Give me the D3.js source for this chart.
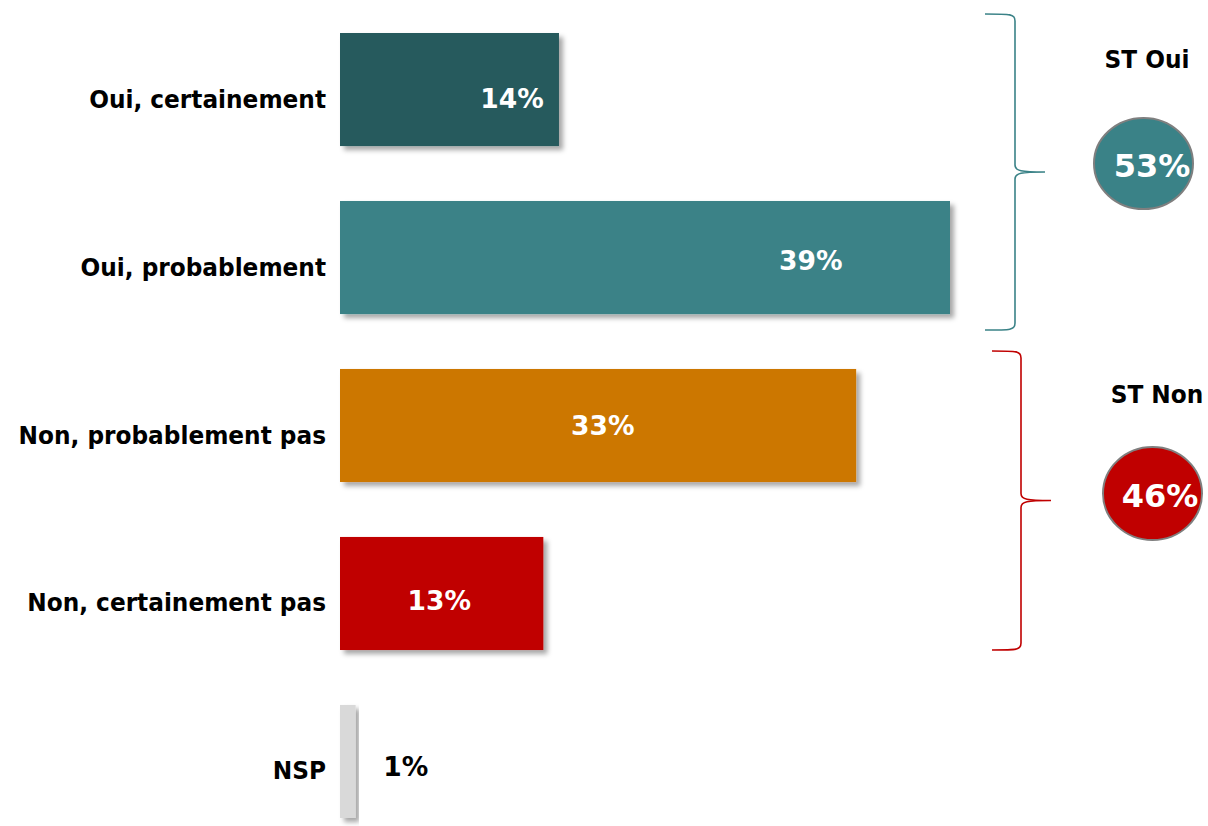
<!DOCTYPE html>
<html>
<head>
<meta charset="utf-8">
<script src="https://cdn.jsdelivr.net/npm/d3@7"></script>
<style>
  html, body { margin: 0; padding: 0; background: #ffffff; }
  svg { display: block; font-family: "DejaVu Sans", Verdana, sans-serif; }
</style>
</head>
<body>
<svg id="chart" width="1208" height="826"></svg>
<script>
// ---- data ----
const categories = ["Oui, certainement", "Oui, probablement", "Non, probablement pas", "Non, certainement pas", "NSP"];
const values = [14, 39, 33, 13, 1];
const barColors = ["#275a5d", "#3a8287", "#cc7703", "#c00000", "#d9d9d9"];
const labelColors = ["#ffffff", "#ffffff", "#ffffff", "#ffffff", "#000000"];
// where each percent label sits horizontally, in value units
const labelAnchors = [11.0, 30.1, 16.8, 6.35, 4.2];

const groupNames = ["ST Oui", "ST Non"];
const groupValues = [53, 46];
const groupColors = ["#3a8287", "#c00000"];

// ---- layout (not data) ----
const labelBaseline = [18, 12.5, 9.5, 17, 14.5]; // px below bar centre
const squeeze = 0.93;

// ---- chart ----
const svg = d3.select("#chart");

const x = d3.scaleLinear().domain([0, 39]).range([340, 950]);
const y = d3.scaleBand().domain(categories).range([33, 818]).paddingInner(0.327).paddingOuter(0);
const yc = c => y(c) + y.bandwidth() / 2;

const defs = svg.append("defs");
const f = defs.append("filter").attr("id", "shadow").attr("x", "-10%").attr("y", "-10%").attr("width", "130%").attr("height", "130%");
f.append("feDropShadow").attr("dx", 4).attr("dy", 4).attr("stdDeviation", 2.5)
  .attr("flood-color", "#000").attr("flood-opacity", 0.35);

const rows = categories.map((c, i) => ({ c, v: values[i], col: barColors[i], lc: labelColors[i], la: labelAnchors[i], lb: labelBaseline[i] }));

svg.append("g").selectAll("rect").data(rows).join("rect")
  .attr("x", x(0))
  .attr("y", d => y(d.c))
  .attr("width", d => x(d.v) - x(0))
  .attr("height", y.bandwidth())
  .attr("fill", d => d.col)
  .attr("filter", "url(#shadow)");

// category labels
svg.append("g").selectAll("text").data(rows).join("text")
  .attr("transform", d => `translate(${x(0) - 14},${yc(d.c) + 18}) scale(${squeeze},1)`)
  .attr("text-anchor", "end")
  .attr("font-size", 25)
  .attr("font-weight", "bold")
  .attr("fill", "#000")
  .text(d => d.c);

// value labels
svg.append("g").selectAll("text").data(rows).join("text")
  .attr("x", d => x(d.la))
  .attr("y", d => yc(d.c) + d.lb)
  .attr("text-anchor", "middle")
  .attr("font-size", 26.5)
  .attr("font-weight", "bold")
  .attr("fill", d => d.lc)
  .text(d => d.v + "%");

// braces
function bracePath(xs, xv, xt, top, bot) {
  const mid = (top + bot) / 2, r = 7;
  return `M${xs},${top} C${xv - 4},${top} ${xv},${top} ${xv},${top + r}` +
    ` L${xv},${mid - r} C${xv},${mid - 1} ${xv + 6},${mid} ${xt},${mid}` +
    ` C${xv + 6},${mid} ${xv},${mid + 1} ${xv},${mid + r}` +
    ` L${xv},${bot - r} C${xv},${bot} ${xv - 4},${bot} ${xs},${bot}`;
}
const braceSpecs = [
  { top: y(categories[0]) - 19, bot: y(categories[1]) + y.bandwidth() + 16, xs: 985, xv: 1015, xt: 1045 },
  { top: y(categories[2]) - 18, bot: y(categories[3]) + y.bandwidth(), xs: 992, xv: 1021, xt: 1051 }
];
braceSpecs.forEach((b, i) => {
  svg.append("path").attr("d", bracePath(b.xs, b.xv, b.xt, b.top, b.bot))
    .attr("fill", "none").attr("stroke", groupColors[i]).attr("stroke-width", 1.6);
});

// group titles and bubbles
const bubbleSpecs = [
  { tx: 1147, ty: 68, cx: 1143.5, cy: 163.5, rx: 49.5, ry: 45.5, vx: 1152, vy: 177 },
  { tx: 1157, ty: 403, cx: 1152.5, cy: 493.5, rx: 49.5, ry: 46.5, vx: 1160, vy: 507 }
];
groupNames.forEach((g, i) => {
  const s = bubbleSpecs[i];
  svg.append("text").attr("transform", `translate(${s.tx},${s.ty}) scale(${squeeze},1)`)
    .attr("text-anchor", "middle")
    .attr("font-size", 25).attr("font-weight", "bold").attr("fill", "#000").text(g);
  svg.append("ellipse").attr("cx", s.cx).attr("cy", s.cy).attr("rx", s.rx).attr("ry", s.ry)
    .attr("fill", groupColors[i]).attr("stroke", "#7f7f7f").attr("stroke-width", 2);
  svg.append("text").attr("x", s.vx).attr("y", s.vy).attr("text-anchor", "middle")
    .attr("font-size", 32).attr("font-weight", "bold").attr("fill", "#fff").text(groupValues[i] + "%");
});
</script>
</body>
</html>
